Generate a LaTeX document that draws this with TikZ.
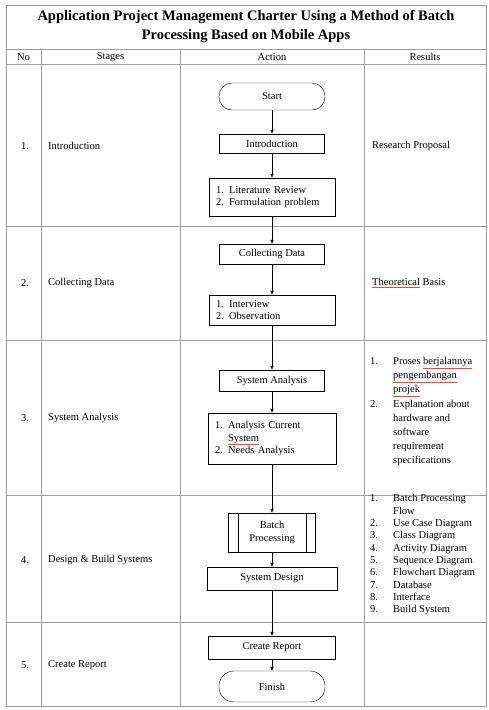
\documentclass[tikz,border=0pt]{standalone}
\usepackage{fontspec}
\setmainfont{Liberation Serif}
\usetikzlibrary{arrows.meta}
\newcommand\body{\fontsize{10.5}{12.5}\selectfont}
\newcommand\spellwave[1]{\textcolor{red!75}{\underline{\textcolor{black}{#1}}}}
\newcommand\itm[1]{\makebox[23pt][l]{#1}}
\begin{document}
\begin{tikzpicture}[x=1pt,y=-1pt,
	tab/.style={ draw=gray!75, line width=1pt },
	cell/.style={ anchor=west, inner sep=0pt, font=\body },
	stepbox/.style={ draw, thin, inner sep=0pt, font=\body, minimum width=105pt, minimum height=20pt },
	listbox/.style={ draw, thin, inner xsep=7pt, inner ysep=3pt, font=\body, align=left, text width=112pt },
	termbox/.style={ draw, thin, rounded corners=13pt, inner sep=0pt, font=\body, minimum width=106pt, minimum height=27pt },
	flow/.style={ thin, -{Latex[length=4pt,width=3.5pt]} }
]
\useasboundingbox (0,0) rectangle (488,710);

% table
\draw[tab] (6,5) rectangle (486,706);
\foreach \y in {49,64,226,340,495,622} \draw[tab] (6,\y) -- (486,\y);
\foreach \x in {41,180,364} \draw[tab] (\x,49) -- (\x,706);

\node at (246,26.5) (title) [align=center, inner sep=0pt, font=\fontsize{14.5}{19}\selectfont\bfseries]
	{Application Project Management Charter Using a Method of Batch\\Processing Based on Mobile Apps};
\node at (23.5,57) (hno) [inner sep=0pt, font=\body] {No};
\node at (110.5,57) (hstages) [inner sep=0pt, font=\body] {Stages};
\node at (272,57) (haction) [inner sep=0pt, font=\body] {Action};
\node at (425,57) (hresults) [inner sep=0pt, font=\body] {Results};

% stages
\node at (21,146) (no1) [cell] {1.};
\node at (21,283) (no2) [cell] {2.};
\node at (21,418) (no3) [cell] {3.};
\node at (21,560) (no4) [cell] {4.};
\node at (21,665) (no5) [cell] {5.};
\node at (48,146) (st1) [cell] {Introduction};
\node at (48,283) (st2) [cell] {Collecting Data};
\node at (48,418) (st3) [cell] {System Analysis};
\node at (48,560) (st4) [cell] {Design \& Build Systems};
\node at (48,665) (st5) [cell] {Create Report};

% action
\node at (272,96.5) (start) [termbox] {Start};
\node at (272,143.5) (intro) [stepbox, minimum height=19pt] {Introduction};
\node at (272,197) (lit) [listbox, minimum height=38pt] {1. Literature Review\\2. Formulation problem};
\node at (272,254) (coll) [stepbox] {Collecting Data};
\node at (272,310) (intv) [listbox, minimum height=30pt] {1. Interview\\2. Observation};
\node at (272,380.5) (sysan) [stepbox, minimum height=21pt] {System Analysis};
\node at (272,438.5) (anlys) [listbox, text width=114pt, minimum height=51pt]
	{1. Analysis Current\\\hphantom{1. }\spellwave{System}\\2. Needs Analysis};
\node at (272,532.5) (batch) [stepbox, minimum width=87pt, minimum height=39pt, align=center] {Batch\\Processing};
\draw[thin] ([xshift=10pt]batch.north west) -- ([xshift=10pt]batch.south west);
\draw[thin] ([xshift=-10pt]batch.north east) -- ([xshift=-10pt]batch.south east);
\node at (272,578.5) (sysdes) [stepbox, minimum width=130pt, minimum height=23pt] {System Design};
\node at (272,647.5) (report) [stepbox, minimum width=127pt, minimum height=23pt] {Create Report};
\node at (272,686.5) (finish) [termbox, minimum height=31pt, rounded corners=15pt] {Finish};
\foreach \a/\b in {start/intro,intro/lit,lit/coll,coll/intv,intv/sysan,sysan/anlys,anlys/batch,batch/sysdes,sysdes/report,report/finish}
	\draw[flow] (\a) to (\b);

% results
\node at (372,146) (res1) [cell] {Research Proposal};
\node at (372,283) (res2) [cell] {\spellwave{Theoretical} Basis};
\node at (370,357) (res3) [cell, anchor=north west, align=left, font=\fontsize{10.5}{14.2}\selectfont]
	{\itm{1.}Proses \spellwave{berjalannya}\\\itm{}\spellwave{pengembangan}\\\itm{}\spellwave{projek}\\
	 \itm{2.}Explanation about\\\itm{}hardware and\\\itm{}software\\\itm{}requirement\\\itm{}specifications};
\node at (370,494.5) (res4) [cell, anchor=north west, align=left, font=\fontsize{10.5}{12.3}\selectfont]
	{\itm{1.}Batch Processing\\\itm{}Flow\\\itm{2.}Use Case Diagram\\\itm{3.}Class Diagram\\\itm{4.}Activity Diagram\\
	 \itm{5.}Sequence Diagram\\\itm{6.}Flowchart Diagram\\\itm{7.}Database\\\itm{8.}Interface\\\itm{9.}Build System};

\end{tikzpicture}
\end{document}
